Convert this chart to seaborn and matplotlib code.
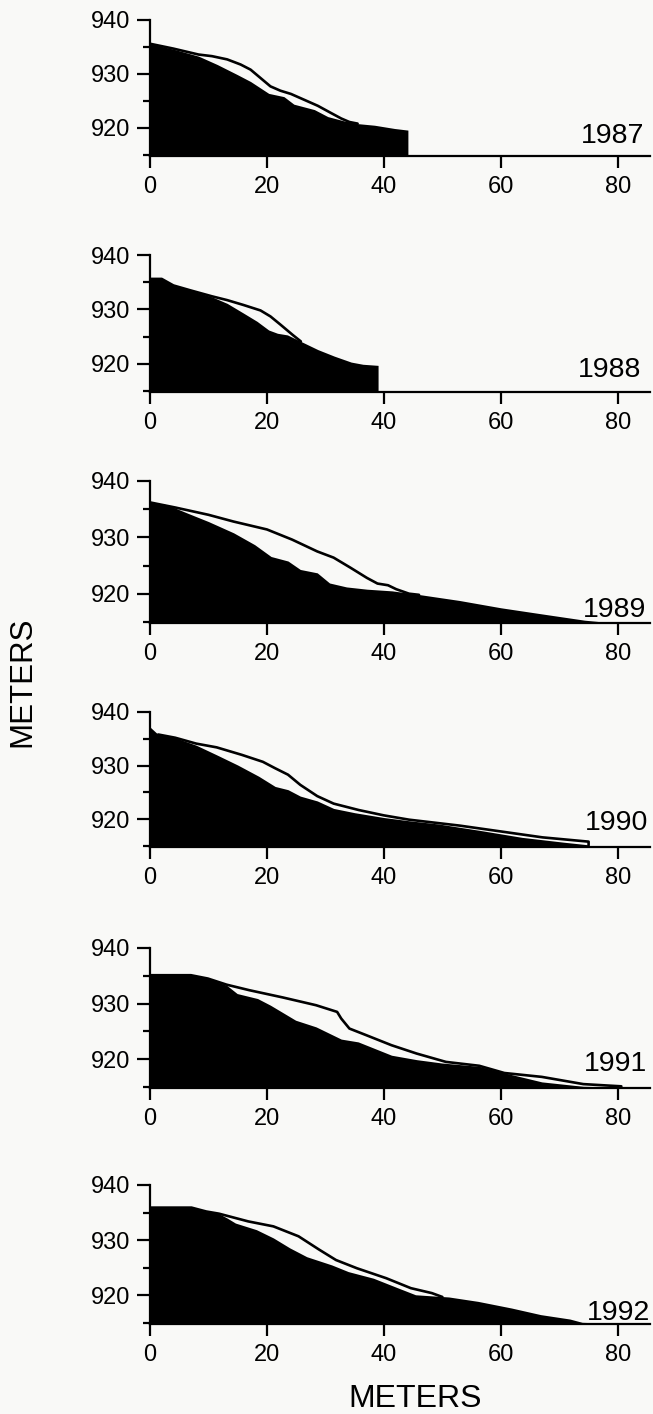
import numpy as np
import matplotlib
matplotlib.use("Agg")
import matplotlib.pyplot as plt
import seaborn as sns
from matplotlib.ticker import MultipleLocator

# profile data (x in meters, elevation in meters)
years = ["1987", "1988", "1989", "1990", "1991", "1992"]

x87_fill = [0, 4, 8.3, 11.5, 14.9, 17.2, 20.3, 22.9, 24.6, 28.1, 30.4, 33.2, 35.5, 38.4, 41.8, 44.1]
y87_fill = [935.6, 934.6, 933.3, 931.75, 929.9, 928.6, 926.4, 925.8, 924.4, 923.4, 922.1, 921.3, 920.8, 920.5, 919.9, 919.6]
x87_line = [0, 4, 8.3, 10.6, 13.2, 15.5, 17.2, 18.9, 20.6, 22.3, 24.1, 26.4, 28.7, 30.9, 32.7, 34.1, 35.5]
y87_line = [935.6, 934.7, 933.6, 933.3, 932.7, 931.75, 930.8, 929.25, 927.7, 926.9, 926.3, 925.2, 924.1, 922.8, 921.75, 921.1, 920.8]

x88_fill = [0, 2, 4, 6.9, 10.6, 13.2, 16, 18.3, 20.3, 21.8, 23.5, 25.8, 28.7, 31.5, 34.4, 36.4, 39]
y88_fill = [935.6, 935.6, 934.4, 933.5, 932.3, 931.1, 929.3, 927.8, 926.2, 925.6, 925.3, 924.1, 922.6, 921.4, 920.3, 919.9, 919.7]
x88_line = [0, 2, 4, 6.9, 10.6, 13.2, 16, 18.9, 20.6, 22.3, 24.4, 25.8]
y88_line = [935.6, 935.6, 934.4, 933.5, 932.4, 931.7, 930.8, 929.8, 928.7, 927.2, 925.3, 924.1]

x89_fill = [0, 2.9, 6.4, 10, 14.3, 17.9, 20.7, 23.6, 25.7, 28.6, 30.7, 33.6, 37.1, 41.4, 45.7, 52.9, 60, 67.1, 74.3, 76.8]
y89_fill = [936.2, 935.8, 934.3, 932.8, 930.8, 928.7, 926.6, 925.8, 924.3, 923.7, 921.9, 921.2, 920.8, 920.5, 919.9, 918.8, 917.5, 916.4, 915.3, 915.05]
x89_line = [0, 4.3, 10, 14.3, 20, 24.3, 28.6, 31.4, 34.3, 37.1, 38.9, 40.7, 42.1, 44.3, 46]
y89_line = [936.2, 935.3, 934, 932.8, 931.4, 929.6, 927.5, 926.4, 924.6, 922.8, 921.8, 921.5, 920.8, 920, 919.8]

x90_fill = [0, 1.4, 4.3, 7.9, 11.4, 15, 18.6, 21.4, 23.6, 25.7, 28.6, 31.4, 35, 40, 44.3, 49.3, 56.4, 63.6, 70.7, 75]
y90_fill = [937.2, 935.8, 935.2, 933.8, 932, 930.1, 928, 926.1, 925.5, 924.3, 923.4, 922, 921.2, 920.3, 919.7, 919.1, 917.9, 916.6, 915.7, 915.2]
x90_line = [1.4, 4.3, 7.9, 11.4, 15.7, 19.3, 21.4, 23.6, 25.7, 28.6, 31.4, 35.7, 40, 44.3, 52.9, 60, 67.1, 75, 75]
y90_line = [935.8, 935.2, 934.1, 933.4, 932, 930.7, 929.5, 928.3, 926.4, 924.3, 922.9, 921.7, 920.7, 919.9, 918.8, 917.7, 916.6, 915.8, 915.1]

x91_fill = [0, 7, 9.9, 13.1, 14.9, 18.4, 20.6, 24.9, 28.4, 32.7, 35.6, 41.3, 45.6, 49.9, 56.3, 59.9, 67, 74.1, 84]
y91_fill = [935.1, 935.1, 934.5, 933.3, 931.8, 930.9, 929.7, 927, 925.8, 923.6, 923.1, 920.7, 919.9, 919.3, 918.7, 917.7, 915.9, 915.1, 914.9]
x91_line = [0, 7, 9.9, 13.1, 17, 22.7, 28.4, 32, 32.7, 34.1, 37, 41.3, 45.6, 50.6, 56.3, 60.6, 67, 74.1, 80.6]
y91_line = [935.1, 935.1, 934.5, 933.4, 932.4, 931.1, 929.7, 928.5, 927.3, 925.5, 924.3, 922.5, 921, 919.5, 918.8, 917.5, 916.8, 915.5, 915.1]

x92_fill = [0, 7.1, 9.6, 11.8, 13.2, 14.6, 18.2, 21.1, 23.9, 26.8, 31.1, 33.9, 38.2, 42.5, 45.4, 48.2, 51.1, 56.1, 61.8, 66.8, 71.8, 73.9, 79.6, 84]
y92_fill = [935.9, 935.9, 935.2, 934.8, 934, 933.1, 931.9, 930.4, 928.6, 927, 925.5, 924.3, 923.1, 921.3, 920.1, 919.9, 919.7, 918.9, 917.7, 916.5, 915.7, 915.1, 914.9, 914.8]
x92_line = [0, 7.1, 9.6, 11.8, 16.8, 21.1, 25.4, 28.9, 31.8, 35.4, 40.4, 44.6, 48.2, 50]
y92_line = [935.9, 935.9, 935.2, 934.8, 933.4, 932.5, 930.7, 928.3, 926.4, 924.9, 923.1, 921.3, 920.4, 919.7]

fills = [(x87_fill, y87_fill), (x88_fill, y88_fill), (x89_fill, y89_fill),
         (x90_fill, y90_fill), (x91_fill, y91_fill), (x92_fill, y92_fill)]
lines = [(x87_line, y87_line), (x88_line, y88_line), (x89_line, y89_line),
         (x90_line, y90_line), (x91_line, y91_line), (x92_line, y92_line)]

sns.set_style("ticks")
plt.rcParams["font.family"] = ["Liberation Sans", "DejaVu Sans"]
plt.rcParams.update({"text.color": "black", "axes.edgecolor": "black",
                     "xtick.color": "black", "ytick.color": "black",
                     "axes.labelcolor": "black"})
bg = "#f9f9f7"

W, H = 653, 1414
fig = plt.figure(figsize=(W / 100, H / 100), dpi=100, facecolor=bg)

# panel layout in pixels: (top, bottom) of each axes
panel_px = [(20, 156), (255, 392), (481, 623), (712, 847), (948, 1088), (1185, 1324)]
year_px = [(644, 143), (641, 377), (646, 617), (648, 830), (647, 1071), (650, 1320)]
ybase = 914.8

for i, yr in enumerate(years):
    top, bot = panel_px[i]
    ax = fig.add_axes([150 / W, 1 - bot / H, 500 / W, (bot - top) / H])
    ax.set_facecolor(bg)
    fx, fy = fills[i]
    lx, ly = lines[i]
    ax.fill_between(fx, ybase, fy, color="black", lw=0, zorder=2)
    sns.lineplot(x=lx, y=ly, ax=ax, color="black", lw=1.9, estimator=None,
                 sort=False, zorder=3)
    ax.set_xlim(0, 85.5)
    ax.set_ylim(ybase, 940)
    ax.set_xticks([0, 20, 40, 60, 80])
    ax.set_yticks([920, 930, 940])
    ax.yaxis.set_minor_locator(MultipleLocator(5))
    ax.tick_params(axis="x", length=8.5, width=1.6, labelsize=17, pad=6, direction="out")
    ax.tick_params(axis="y", which="major", length=9.5, width=1.6, labelsize=17, pad=5)
    ax.tick_params(axis="y", which="minor", length=5, width=1.6)
    for s in ["top", "right"]:
        ax.spines[s].set_visible(False)
    for s in ["left", "bottom"]:
        ax.spines[s].set_linewidth(1.6)
    ax.set_xlabel("")
    ax.set_ylabel("")
    xp, yp = year_px[i]
    fig.text(xp / W, 1 - yp / H, yr, ha="right", va="baseline", fontsize=20.5)

fig.text(22 / W, 1 - 682 / H, "METERS", rotation=90, ha="center", va="center", fontsize=22.5)
fig.text(415 / W, 1 - 1407 / H, "METERS", ha="center", va="baseline", fontsize=23)

fig.savefig("out.png", dpi=100, facecolor=bg)
